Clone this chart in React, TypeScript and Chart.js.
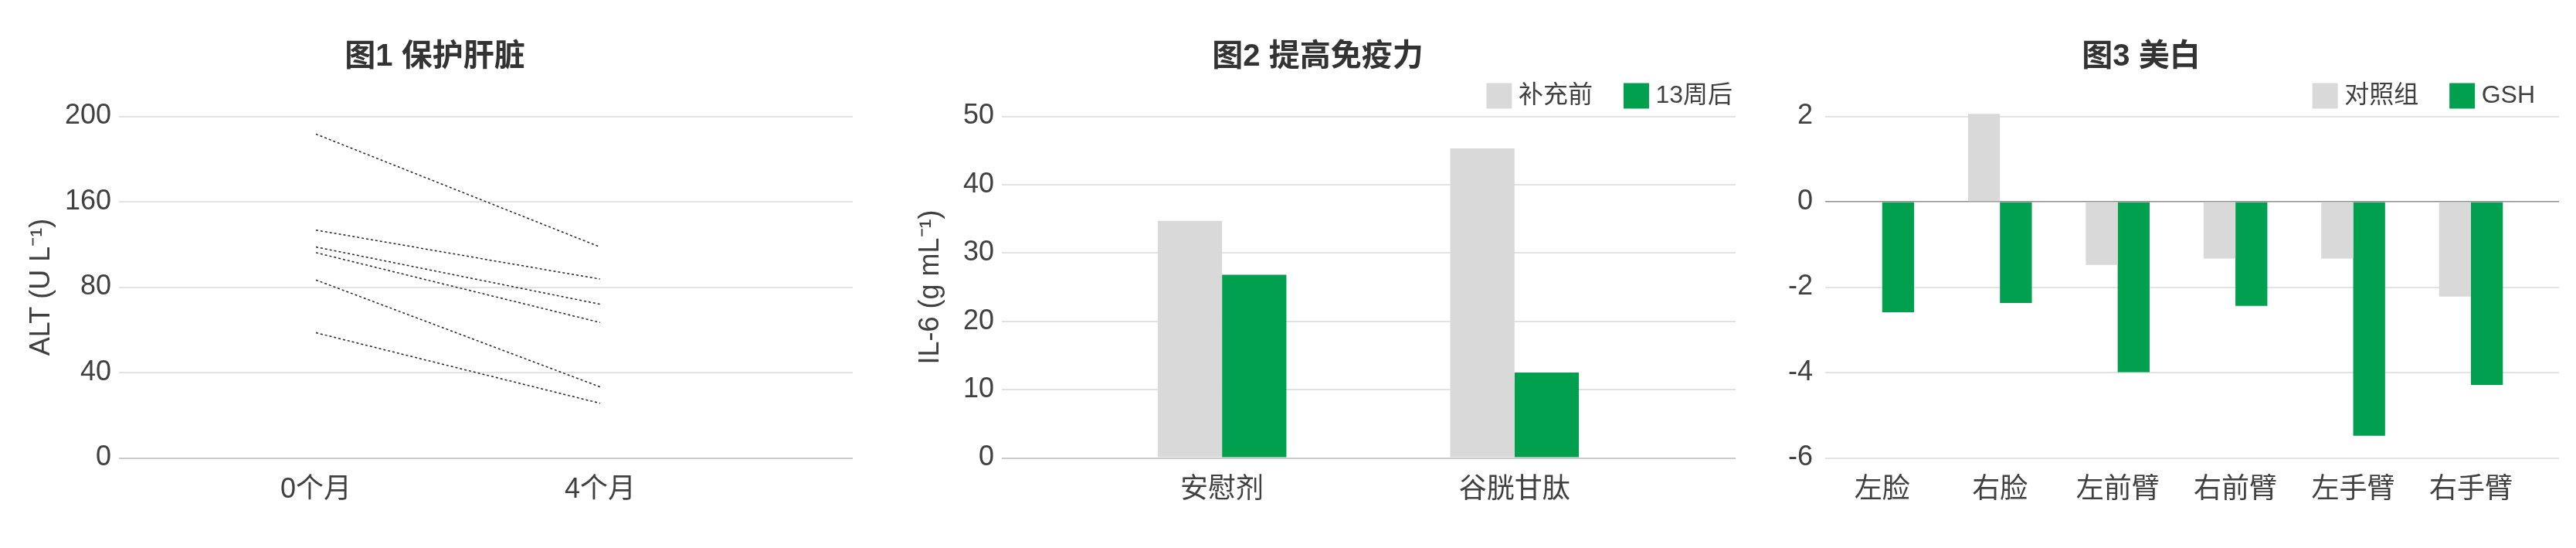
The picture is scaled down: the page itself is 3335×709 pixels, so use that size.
import { useEffect, useRef } from "react"
import { Chart, registerables, type ChartConfiguration, type Plugin } from "chart.js"

Chart.register(...registerables)

const FONT = "'Liberation Sans', 'Noto Sans CJK SC', sans-serif"
const TEXT = "#404040"
const GRAY = "#d9d9d9"
const GREEN = "#00a04f"
const GRID = "#e3e3e3"

Chart.defaults.font.family = FONT
Chart.defaults.color = TEXT

// 图1 保护肝脏
const altMonths = ["0个月", "4个月"]
const altStart = [189.6, 133.4, 123.5, 120.2, 104.2, 73.3]
const altEnd = [123.5, 104.7, 90.0, 79.3, 41.6, 32.0]
const altTickLabels = ["0", "40", "80", "160", "200"]

// 图2 提高免疫力
const il6Groups = ["安慰剂", "谷胱甘肽"]
const il6Series = ["补充前", "13周后"]
const il6Before = [34.7, 45.3]
const il6After = [26.8, 12.5]

// 图3 美白
const skinSites = ["左脸", "右脸", "左前臂", "右前臂", "左手臂", "右手臂"]
const skinSeries = ["对照组", "GSH"]
const skinControl = [0, 2.06, -1.48, -1.33, -1.33, -2.22]
const skinGsh = [-2.59, -2.37, -3.99, -2.44, -5.48, -4.29]

// simple legend: square swatches, right aligned above the plot
const boxLegend: Plugin = {
  id: "boxLegend",
  afterDraw(chart, _args, opts: any) {
    if (!opts || !opts.display) return
    const ctx = chart.ctx
    const box = 33
    const gap = 8.5
    const itemGap = 40
    ctx.save()
    ctx.font = `32px ${FONT}`
    const items = chart.data.datasets.map((ds) => {
      const text = String(ds.label)
      return { text, color: ds.backgroundColor as string, w: ctx.measureText(text).width }
    })
    const total = items.reduce((s, it) => s + box + gap + it.w, 0) + itemGap * (items.length - 1)
    let x = chart.chartArea.right - opts.rightGap - total
    for (const it of items) {
      ctx.fillStyle = it.color
      ctx.fillRect(x, opts.y - box / 2, box, box)
      ctx.fillStyle = TEXT
      ctx.textAlign = "left"
      ctx.textBaseline = "middle"
      ctx.fillText(it.text, x + box + gap, opts.y)
      x += box + gap + it.w + itemGap
    }
    ctx.restore()
  },
}

function titleOpts(text: string) {
  return {
    display: true,
    text,
    color: "#333333",
    font: { size: 40, weight: "bold" as const },
    padding: { top: 49.5, bottom: 53 },
  }
}

function categoryAxis(names: string[], min: number, max: number) {
  return {
    type: "linear" as const,
    min,
    max,
    offset: false,
    grid: { display: false },
    border: { display: false },
    afterBuildTicks: (scale: any) => {
      scale.ticks = names.map((_, i) => ({ value: i }))
    },
    ticks: {
      autoSkip: false,
      maxRotation: 0,
      padding: 12,
      color: TEXT,
      font: { size: 36 },
      callback: (v: any) => names[Math.round(Number(v))] ?? "",
    },
  }
}

function valueAxis(min: number, max: number, step: number, opts: any) {
  return {
    min,
    max,
    border: { display: false },
    afterFit: (scale: any) => {
      scale.width = 132
    },
    grid: {
      drawTicks: false,
      lineWidth: (c: any) => (c.tick?.value === 0 ? opts.zeroWidth : 2),
      color: (c: any) => (c.tick?.value === 0 ? opts.zeroColor : GRID),
    },
    ticks: {
      stepSize: step,
      padding: opts.tickPad,
      color: TEXT,
      font: { size: 36 },
      ...(opts.labels ? { callback: (_v: any, i: number) => opts.labels[i] } : {}),
    },
    title: opts.title
      ? {
          display: true,
          text: opts.title,
          color: TEXT,
          font: { size: 36 },
          padding: { top: opts.titlePad, bottom: 0 },
        }
      : { display: false },
  }
}

const common = {
  responsive: true,
  maintainAspectRatio: false,
  animation: false as const,
  events: [],
  layout: { padding: { top: 0, left: 0, right: 0, bottom: 41.3 } },
}

function liverConfig(): ChartConfiguration {
  return {
    type: "line",
    data: {
      datasets: altStart.map((v, i) => ({
        label: `${i + 1}`,
        data: [
          { x: 0, y: v },
          { x: 1, y: altEnd[i] },
        ],
        borderColor: "#262626",
        borderWidth: 1.5,
        borderDash: [3, 3],
        pointRadius: 0,
        fill: false,
      })),
    },
    options: {
      ...common,
      plugins: {
        legend: { display: false },
        tooltip: { enabled: false },
        title: titleOpts("图1 保护肝脏"),
      },
      scales: {
        x: categoryAxis(altMonths, -0.693, 1.889),
        y: valueAxis(0, 200, 50, {
          labels: altTickLabels,
          tickPad: 10,
          zeroColor: "#cccccc",
          zeroWidth: 2,
          title: "ALT (U L⁻¹)",
          titlePad: 10.8,
        }),
      },
    } as any,
  }
}

function immuneConfig(): ChartConfiguration {
  return {
    type: "bar",
    data: {
      datasets: [
        { label: il6Series[0], data: il6Before.map((y, x) => ({ x, y })), backgroundColor: GRAY },
        { label: il6Series[1], data: il6After.map((y, x) => ({ x, y })), backgroundColor: GREEN },
      ],
    },
    options: {
      ...common,
      datasets: { bar: { categoryPercentage: 0.44, barPercentage: 1 } },
      plugins: {
        legend: { display: false },
        tooltip: { enabled: false },
        title: titleOpts("图2 提高免疫力"),
        boxLegend: { display: true, y: 124, rightGap: 4 },
      },
      scales: {
        x: categoryAxis(il6Groups, -0.753, 1.756),
        y: valueAxis(0, 50, 10, {
          tickPad: 10,
          zeroColor: "#cccccc",
          zeroWidth: 2,
          title: "IL-6 (g mL⁻¹)",
          titlePad: 18.4,
        }),
      },
    } as any,
    plugins: [boxLegend],
  }
}

function whiteningConfig(): ChartConfiguration {
  return {
    type: "bar",
    data: {
      datasets: [
        {
          label: skinSeries[0],
          data: skinControl.map((y, x) => ({ x, y })),
          backgroundColor: GRAY,
          clip: 20,
        },
        {
          label: skinSeries[1],
          data: skinGsh.map((y, x) => ({ x, y })),
          backgroundColor: GREEN,
          clip: 20,
        },
      ],
    },
    options: {
      ...common,
      datasets: { bar: { categoryPercentage: 0.542, barPercentage: 1 } },
      plugins: {
        legend: { display: false },
        tooltip: { enabled: false },
        title: titleOpts("图3 美白"),
        boxLegend: { display: true, y: 124, rightGap: 31 },
      },
      scales: {
        x: categoryAxis(skinSites, -0.484, 5.748),
        y: valueAxis(-6, 2, 2, {
          tickPad: 16,
          zeroColor: "#8c8c8c",
          zeroWidth: 1.5,
        }),
      },
    } as any,
    plugins: [boxLegend],
  }
}

function ChartBox({ left, build }: { left: number; build: () => ChartConfiguration }) {
  const canvasRef = useRef<HTMLCanvasElement>(null)

  useEffect(() => {
    if (!canvasRef.current) return
    const chart = new Chart(canvasRef.current, build())
    return () => {
      chart.destroy()
    }
  }, [build])

  return (
    <div style={{ position: "absolute", left, top: 0, width: 1082, height: 709 }}>
      <canvas ref={canvasRef} />
    </div>
  )
}

export default function App() {
  return (
    <div
      style={{
        position: "absolute",
        left: 0,
        top: 0,
        width: 3335,
        height: 709,
        background: "#ffffff",
        overflow: "hidden",
      }}
    >
      <ChartBox left={22} build={liverConfig} />
      <ChartBox left={1165} build={immuneConfig} />
      <ChartBox left={2231} build={whiteningConfig} />
    </div>
  )
}
